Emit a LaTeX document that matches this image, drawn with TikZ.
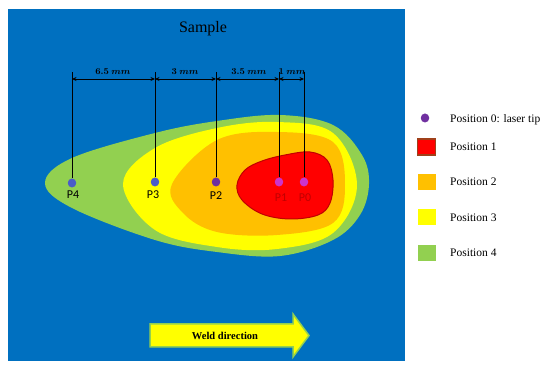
\documentclass[tikz,border=0pt]{standalone}
\usepackage{fontspec}
\setmainfont{Liberation Serif}
\newfontfamily\labelfont{Carlito}
\usetikzlibrary{arrows.meta,shapes.geometric}
\definecolor{bgblue}{HTML}{0070C0}
\definecolor{zgreen}{HTML}{92D050}
\definecolor{zyellow}{HTML}{FFFF00}
\definecolor{zorange}{HTML}{FFC000}
\definecolor{zred}{HTML}{FF0000}
\definecolor{zdarkred}{HTML}{C00000}
\definecolor{dotblue}{HTML}{4A5CC8}
\definecolor{dotpurple}{HTML}{7030A0}
\definecolor{dotmag}{HTML}{CC33CC}
\definecolor{sqborder}{HTML}{A0401A}
\begin{document}
\begin{tikzpicture}[x=1pt,y=-1pt,
  dot/.style={ellipse,minimum width=8.5pt,minimum height=9pt,inner sep=0pt},
  plabel/.style={font=\labelfont\fontsize{12}{14}\selectfont,inner sep=0pt},
  dimlabel/.style={font=\fontsize{9.5}{11}\selectfont\boldmath,inner sep=0pt},
  dimline/.style={line width=0.9pt,{Stealth[length=4.5pt,width=4pt]}-{Stealth[length=4.5pt,width=4pt]}},
  leader/.style={line width=0.9pt},
  legsq/.style={minimum width=18pt,minimum height=16pt,inner sep=0pt},
  legtext/.style={anchor=west,font=\fontsize{11.5}{13}\selectfont,inner sep=0pt}]
\useasboundingbox (0,0) rectangle (550,371);
\fill[white] (0,0) rectangle (550,371);
\fill[bgblue] (8,9) rectangle (405,361);
% zones
\fill[zgreen] plot[smooth cycle,tension=0.6] coordinates {(45,183) (72,158) (155,133) (217,121) (280,115) (333,125) (362,155) (369,184) (360,215) (333,240) (280,256) (217,252) (155,240) (72,208)};
\fill[zyellow] plot[smooth cycle,tension=0.6] coordinates {(123,184) (155,148) (217,128) (277,122) (333,133) (357,185) (333,233) (277,249) (217,247) (155,230)};
\fill[zorange] plot[smooth cycle,tension=0.6] coordinates {(172,184) (217,140) (277,132) (333,142) (345,185) (333,223) (277,235) (217,232) (183,213)};
\filldraw[fill=zred,draw=zdarkred,line width=1pt] plot[smooth cycle,tension=0.6] coordinates {(237,185) (245,170) (262,161) (285,155) (310,152) (327,160) (333,180) (330,203) (318,215) (290,219) (262,214) (242,200)};
% title
\node[font=\fontsize{16}{18}\selectfont,inner sep=0pt] (title) at (203,29) {Sample};
% dots
\node[dot,fill=dotblue] (d4) at (72,183) {};
\node[dot,fill=dotblue] (d3) at (155,182) {};
\node[dot,fill=dotpurple] (d2) at (216,182) {};
\node[dot,fill=dotmag] (d1) at (279,182) {};
\node[dot,fill=dotmag] (d0) at (304,182) {};
\node[plabel] (p4) at (73,195) {P4};
\node[plabel] (p3) at (153,195) {P3};
\node[plabel] (p2) at (216,196) {P2};
\node[plabel,text=zdarkred] (p1) at (281,198) {P1};
\node[plabel,text=zdarkred] (p0) at (305,198) {P0};
% leaders
\coordinate (t4) at (72,72);
\coordinate (t3) at (155,72);
\coordinate (t2) at (216,72);
\coordinate (t1) at (279,72);
\coordinate (t0) at (304,72);
\draw[leader] (t4) -- (d4);
\draw[leader] (t3) -- (d3);
\draw[leader] (t2) -- (d2);
\draw[leader] (t1) -- (d1);
\draw[leader] (t0) -- (d0);
% dimension line
\coordinate (h4) at (72,79);
\coordinate (h3) at (155,79);
\coordinate (h2) at (216,79);
\coordinate (h1) at (279,79);
\coordinate (h0) at (304,79);
\draw[dimline] (h4) -- (h3);
\draw[dimline] (h3) -- (h2);
\draw[dimline] (h2) -- (h1);
\draw[dimline] (h1) -- (h0);
\node[dimlabel] (m43) at (113,72) {$6.5\ mm$};
\node[dimlabel] (m32) at (185,72) {$3\ mm$};
\node[dimlabel] (m21) at (249,72) {$3.5\ mm$};
\node[dimlabel] (m10) at (292,72) {$1\ mm$};
% weld arrow
\filldraw[fill=zyellow,draw=zgreen,line width=1.5pt,line join=miter] (150,324) -- (293,324) -- (293,314) -- (309,335.5) -- (293,357) -- (293,347) -- (150,347) -- cycle;
\node[font=\fontsize{10.5}{12}\selectfont\bfseries,inner sep=0pt] (weld) at (225,335.5) {Weld direction};
% legend
\node[dot,fill=dotpurple] (l0) at (425,118) {};
\node[legtext] (lt0) at (450,120) {Position 0: laser tip};
\node[legsq,fill=zred,draw=sqborder,line width=1.2pt] (l1) at (426.5,147) {};
\node[legtext] (lt1) at (450,147) {Position 1};
\node[legsq,fill=zorange] (l2) at (426.5,182) {};
\node[legtext] (lt2) at (450,182) {Position 2};
\node[legsq,fill=zyellow] (l3) at (426.5,217) {};
\node[legtext] (lt3) at (450,218) {Position 3};
\node[legsq,fill=zgreen] (l4) at (426.5,253) {};
\node[legtext] (lt4) at (450,253) {Position 4};
\end{tikzpicture}
\end{document}
